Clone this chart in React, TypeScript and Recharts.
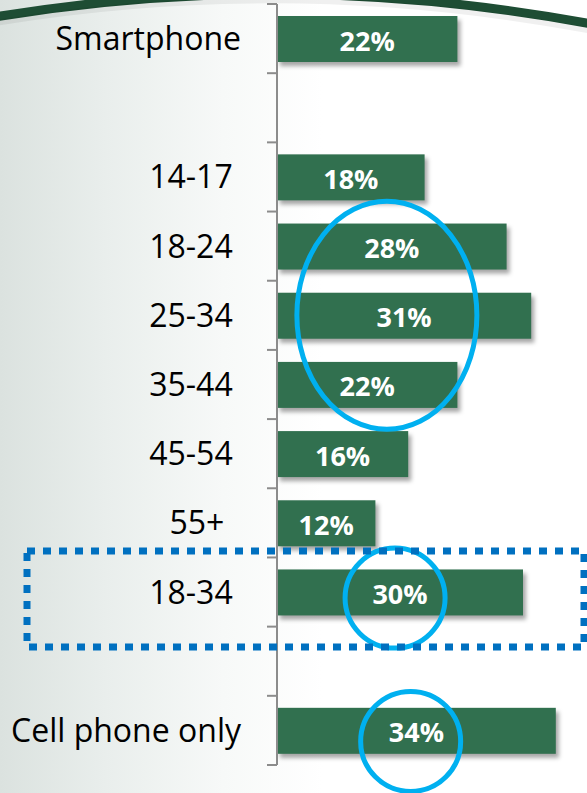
import { BarChart, Bar, XAxis, YAxis, LabelList, ReferenceDot } from "recharts"

const categories = ['Smartphone', 'gap1', '14-17', '18-24', '25-34', '35-44', '45-54', '55+', '18-34', 'gap2', 'Cell phone only']
const tickLabels = ['Smartphone', '', '14-17\u00a0', '18-24\u00a0', '25-34\u00a0', '35-44\u00a0', '45-54\u00a0', '55+\u00a0\u00a0', '18-34\u00a0', '', 'Cell phone only']
const shares = [22, null, 18, 28, 31, 22, 16, 12, 30, null, 34]

const data = categories.map((name, i) => ({ name, value: shares[i] }))

const W = 587
const H = 793
const MARGIN = { top: 4, right: 23, bottom: 28, left: 0 }
const AXIS_W = 277
const TICK_SIZE = 10
const TICK_MARGIN = 26
const BAND = (H - MARGIN.top - MARGIN.bottom) / categories.length

const GREEN = "#31704f"
const CYAN = "#00b0f0"
const BLUE = "#0070c0"
const FONT = "'Open Sans', 'Liberation Sans', sans-serif"

function CategoryTick({ x, y, payload }: { x?: number; y?: number; payload?: { value: string } }) {
  if (x == null || y == null || !payload) return null
  const idx = categories.indexOf(payload.value)
  const axisX = x + TICK_SIZE + TICK_MARGIN
  const isLast = idx === categories.length - 1
  return (
    <g>
      <line x1={axisX - TICK_SIZE} x2={axisX} y1={y - BAND / 2} y2={y - BAND / 2} stroke="#8c8c8c" strokeWidth={2} />
      {isLast && (
        <line x1={axisX - TICK_SIZE} x2={axisX} y1={y + BAND / 2} y2={y + BAND / 2} stroke="#8c8c8c" strokeWidth={2} />
      )}
      <text x={x} y={y} dy="0.36em" textAnchor="end" fontSize={32} fontFamily={FONT} fill="#000" style={{ whiteSpace: 'pre' }}>
        {tickLabels[idx]}
      </text>
    </g>
  )
}

function ShadowBar(props: { x?: number; y?: number; width?: number; height?: number }) {
  const { x = 0, y = 0, width = 0, height = 0 } = props
  if (!width) return null
  return (
    <rect
      x={x}
      y={y}
      width={width}
      height={height}
      fill={GREEN}
      style={{ filter: 'drop-shadow(3px 4px 2px rgba(0,0,0,0.35))' }}
    />
  )
}

function ellipseShape(rx: number, ry: number, dy = 0) {
  return (p: { cx?: number; cy?: number }) => (
    <ellipse cx={p.cx} cy={(p.cy ?? 0) + dy} rx={rx} ry={ry} fill="none" stroke={CYAN} strokeWidth={5} />
  )
}

function dottedBox(p: { cx?: number; cy?: number }) {
  const cx = p.cx ?? 0
  const cy = p.cy ?? 0
  return (
    <rect
      x={cx - 250}
      y={cy - 41}
      width={557}
      height={96}
      fill="none"
      stroke={BLUE}
      strokeWidth={7}
      strokeDasharray="8 8"
    />
  )
}

export default function App() {
  return (
    <div
      style={{
        position: 'absolute',
        left: 0,
        top: 0,
        width: W,
        height: H,
        overflow: 'hidden',
        background: 'linear-gradient(to right, #dbe2df 0%, #e9eeec 18%, #f7f9f8 38%, #ffffff 55%, #ffffff 100%)',
      }}
    >
      <svg width={W} height={H} style={{ position: 'absolute', left: 0, top: 0 }}>
        <path d="M -5 17 Q 290 -32 592 24" fill="none" stroke="#1e4d34" strokeWidth={9} />
        <path d="M -5 23 Q 290 -26 592 31" fill="none" stroke="rgba(0,0,0,0.06)" strokeWidth={6} />
      </svg>
      <div style={{ position: 'absolute', left: 0, top: 0 }}>
        <BarChart width={W} height={H} data={data} layout="vertical" margin={MARGIN} barSize={46}>
          <XAxis type="number" domain={[0, 35]} hide />
          <YAxis
            type="category"
            dataKey="name"
            width={AXIS_W}
            allowDuplicatedCategory={false}
            axisLine={{ stroke: '#8c8c8c', strokeWidth: 2 }}
            tickLine={false}
            tickSize={TICK_SIZE}
            tickMargin={TICK_MARGIN}
            interval={0}
            tick={<CategoryTick />}
          />
          <Bar dataKey="value" isAnimationActive={false} shape={<ShadowBar />}>
            <LabelList
              dataKey="value"
              position="center"
              formatter={(v: unknown) => (v == null ? '' : `${v}%`)}
              fill="#ffffff"
              fontSize={27}
              fontWeight="bold"
              fontFamily={FONT}
              dy={2}
            />
          </Bar>
          <ReferenceDot x={13.4} y="25-34" shape={ellipseShape(90, 114)} />
          <ReferenceDot x={14.4} y="18-34" shape={ellipseShape(50, 50, 6)} />
          <ReferenceDot x={16.3} y="Cell phone only" shape={ellipseShape(50, 50, 11)} />
          <ReferenceDot x={0} y="18-34" shape={dottedBox} />
        </BarChart>
      </div>
    </div>
  )
}
